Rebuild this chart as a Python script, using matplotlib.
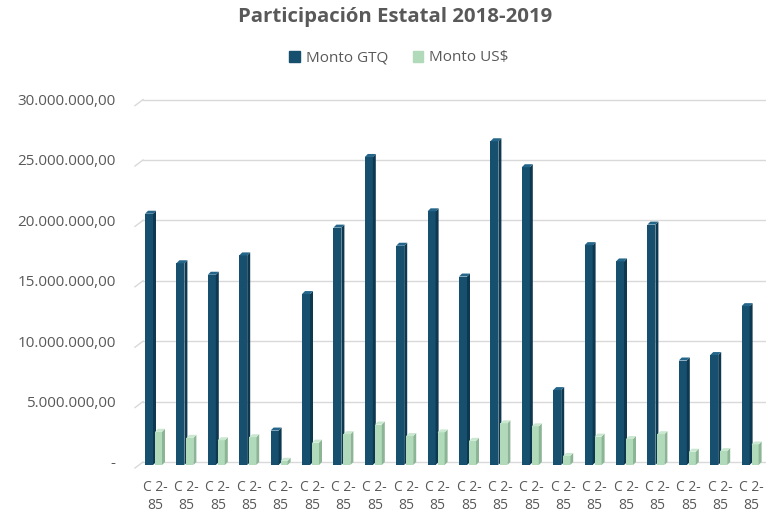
import matplotlib.pyplot as plt
from matplotlib.patches import Patch

categories = ['C 2-\n85'] * 20
monto_gtq = [20.8, 16.7, 15.75, 17.35, 2.85, 14.15, 19.65, 25.5, 18.15, 21.0,
             15.6, 26.8, 24.65, 6.2, 18.2, 16.85, 19.9, 8.65, 9.1, 13.15]
monto_usd = [2.75, 2.25, 2.05, 2.3, 0.35, 1.85, 2.55, 3.35, 2.4, 2.7,
             2.0, 3.45, 3.2, 0.75, 2.35, 2.15, 2.55, 1.1, 1.15, 1.7]
ticks = [0, 5, 10, 15, 20, 25, 30]
tick_labels = ['-', '5.000.000,00', '10.000.000,00', '15.000.000,00',
               '20.000.000,00', '25.000.000,00', '30.000.000,00']

plt.rcParams['font.family'] = ['Open Sans', 'DejaVu Sans']
gray = '#595959'

dark = ('#17506f', '#0e3850', '#24658a')   # front, side, top
light = ('#b0dab9', '#8cb596', '#c9e8cf')

W, H = 766, 512
fig = plt.figure(figsize=(W / 100, H / 100), dpi=100)
ax = fig.add_axes([135 / W, (H - 465) / H, (766 - 135) / W, (465 - 90) / H])

px_x = 31.4          # pixels per category
px_y = 12.08         # pixels per million
dx = 3 / px_x        # bar depth offset in data units
dy = 3 / px_y
wall = 3 / px_y      # back wall offset for gridlines

ax.set_xlim(-20 / px_x, (766 - 155) / px_x)
ax.set_ylim(0, 375 / px_y)


def bar3d(x, w, v, cols):
    ax.bar(x, v, width=w, align='edge', color=cols[0], zorder=3, linewidth=0)
    ax.fill([x + w, x + w + dx, x + w + dx, x + w],
            [0, dy, v + dy, v], color=cols[1], zorder=3, linewidth=0)
    ax.fill([x, x + dx, x + w + dx, x + w],
            [v, v + dy, v + dy, v], color=cols[2], zorder=3, linewidth=0)


for i in range(len(categories)):
    bar3d(i - 10 / px_x, 8 / px_x, monto_gtq[i], dark)
    bar3d(i, 7 / px_x, monto_usd[i], light)

# gridlines on the back wall, with the little floor diagonal at the left
x0, x1 = ax.get_xlim()
for t in ticks:
    ax.plot([x0, x0 + 8 / px_x], [t - wall, t + wall], color='#d9d9d9', lw=1, zorder=1, clip_on=False)
    ax.plot([x0 + 8 / px_x, x1], [t + wall, t + wall], color='#d9d9d9', lw=1, zorder=1)

ax.set_yticks([t + wall for t in ticks])
ax.set_yticklabels(tick_labels)
ax.set_xticks(range(len(categories)))
ax.set_xticklabels(categories, linespacing=1.25)
ax.tick_params(axis='y', length=0, pad=14, labelsize=11, labelcolor=gray)
ax.tick_params(axis='x', length=0, pad=11, labelsize=10, labelcolor=gray)
for s in ax.spines.values():
    s.set_visible(False)

fig.text(395 / W, 1 - 17 / H, 'Participación Estatal 2018-2019', ha='center', va='center',
         fontsize=14.7, fontweight='bold', color=gray)

handles = [Patch(color=dark[0], label='Monto GTQ'), Patch(color=light[0], label='Monto US$')]
fig.legend(handles=handles, loc='center', bbox_to_anchor=(399 / W, 1 - 58 / H), ncol=2,
           frameon=False, fontsize=11, labelcolor=gray, handlelength=0.7, handleheight=0.7,
           handletextpad=0.4, columnspacing=1.6)

fig.savefig('out.png', dpi=100)
